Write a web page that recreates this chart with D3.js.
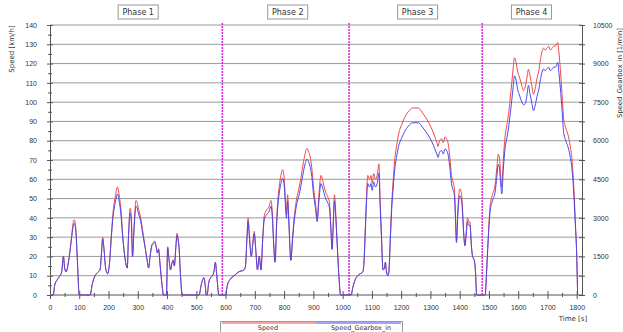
<!DOCTYPE html>
<html>
<head>
<meta charset="utf-8">
<script src="https://cdn.jsdelivr.net/npm/d3@7"></script>
<style>
  body { margin: 0; background: #fff; }
  svg { font-family: "DejaVu Sans", sans-serif; }
  .axis text { font-size: 7px; fill: #333; }
  .axis path, .axis line { stroke: #555; }
</style>
</head>
<body>
<div id="chart"></div>
<script>
// time [s]
const times = [
  0, 11, 16, 25, 34, 40, 46, 50, 55, 63, 72, 80, 83, 88, 93, 100, 137, 145, 154, 165,
  171, 176, 180, 184, 190, 197, 203, 210, 215, 223, 231, 236, 242, 248, 254, 261, 264, 268, 274, 278,
  282, 287, 294, 298, 302, 310, 318, 326, 333, 337, 342, 348, 352, 358, 362, 367, 371, 376, 383, 388,
  398, 402, 407, 412, 416, 421, 425, 430, 434, 438, 441, 446, 452, 509, 518, 526, 531, 534, 537, 542,
  549, 555, 560, 565, 570, 577, 600,
  606, 615, 629, 645, 663, 668, 673, 677, 681, 688, 693, 698, 703, 709, 715, 721, 727, 732, 740, 749,
  755, 760, 764, 769, 775, 779, 783, 789, 795, 800, 805, 808, 812, 816, 823, 829, 835, 843, 852, 862,
  870, 878, 885, 890, 896, 901, 907, 913, 919, 926, 931, 937, 943, 949, 955, 960, 964, 968, 972, 976,
  982, 988, 993, 1029,
  1035, 1043, 1052, 1060, 1069, 1073, 1076, 1080, 1086, 1092, 1097, 1101, 1106, 1112, 1118, 1124, 1128, 1133, 1138, 1143,
  1146, 1150, 1155, 1158, 1163, 1168, 1173, 1178, 1185, 1192, 1201, 1212, 1224, 1240, 1258, 1275, 1292, 1305, 1315, 1322,
  1326, 1331, 1338, 1344, 1350, 1355, 1360, 1366, 1372, 1378, 1382, 1386, 1389, 1394, 1400, 1406, 1410, 1414, 1418, 1422,
  1427, 1431, 1435, 1440, 1444, 1450, 1454, 1458, 1487,
  1492, 1497, 1504, 1512, 1521, 1527, 1532, 1536, 1540, 1544, 1549, 1555, 1561, 1567, 1572, 1578, 1583, 1587, 1592, 1598,
  1604, 1610, 1618, 1624, 1630, 1635, 1640, 1647, 1652, 1658, 1664, 1670, 1676, 1681, 1687, 1692, 1698, 1704, 1710, 1716,
  1721, 1727, 1731, 1735, 1739, 1744, 1750, 1755, 1762, 1772, 1778, 1784, 1790, 1795, 1800, 1803
];

// Speed [km/h]
const speed = [
  0, 0, 5, 8, 10, 12, 20, 14, 12, 17, 28, 38, 39, 35, 20, 0, 0, 6, 10, 12,
  13, 22, 30, 25, 14, 11, 16, 32, 42, 51, 56, 52, 45, 32, 22, 15, 14, 30, 45, 40,
  20, 35, 49, 48, 45, 40, 32, 24, 17, 14, 20, 26, 27, 28, 26, 22, 24, 16, 5, 0,
  0, 25, 18, 13, 16, 18, 15, 25, 32, 29, 25, 10, 0, 0, 6, 9, 4, 0, 0, 6,
  9, 10, 12, 17, 10, 0, 0,
  5, 8, 10, 12, 13, 15, 30, 40, 32, 20, 27, 33, 24, 13, 20, 13, 30, 41, 44, 46,
  49, 42, 28, 17, 40, 50, 56, 62, 65, 61, 48, 42, 52, 40, 18, 30, 41, 50, 56, 65,
  72, 76, 74, 71, 64, 55, 48, 40, 52, 62, 60, 56, 53, 51, 48, 35, 24, 38, 52, 44,
  25, 8, 0, 0,
  4, 8, 10, 11, 12, 17, 28, 45, 62, 60, 62, 58, 63, 60, 62, 68, 50, 30, 13, 14,
  17, 12, 10, 12, 30, 48, 60, 70, 78, 84, 88, 92, 95, 97, 97, 94, 90, 86, 82, 79,
  77, 80, 81, 79, 82, 81, 79, 72, 62, 58, 55, 40, 28, 45, 55, 53, 44, 32, 26, 32,
  40, 38, 38, 26, 20, 18, 12, 0, 0,
  12, 28, 46, 52, 57, 66, 73, 71, 62, 56, 70, 82, 88, 94, 101, 110, 118, 123, 121, 116,
  113, 110, 106, 108, 113, 117, 114, 108, 104, 107, 112, 116, 122, 126, 128, 127, 128, 129, 127, 128,
  129, 129, 130, 131, 126, 117, 104, 92, 87, 82, 77, 70, 56, 39, 20, 0
];

// Speed_Gearbox_in [1/min]
const gearboxRpm = [
  0, 0, 375, 600, 750, 900, 1500, 1050, 900, 1275, 2040, 2715, 2780, 2510, 1500, 0, 0, 450, 750, 900,
  975, 1635, 2175, 1840, 1050, 825, 1200, 2310, 2985, 3590, 3930, 3660, 3190, 2310, 1635, 1125, 1050, 2175, 3190, 2850,
  1500, 2510, 3460, 3390, 3190, 2850, 2310, 1770, 1275, 1050, 1500, 1905, 1970, 2040, 1905, 1635, 1770, 1200, 375, 0,
  0, 1840, 1350, 975, 1200, 1350, 1125, 1840, 2310, 2110, 1840, 750, 0, 0, 450, 675, 300, 0, 0, 450,
  675, 750, 900, 1275, 750, 0, 0,
  375, 600, 750, 900, 975, 1125, 2175, 2850, 2310, 1500, 1970, 2380, 1770, 975, 1500, 975, 2175, 2920, 3120, 3255,
  3460, 2985, 2040, 1275, 2850, 3525, 3930, 4335, 4540, 4270, 3390, 2985, 3660, 2850, 1350, 2175, 2920, 3525, 3930, 4540,
  5010, 5280, 5145, 4940, 4470, 3860, 3390, 2850, 3660, 4335, 4200, 3930, 3730, 3590, 3390, 2510, 1770, 2715, 3660, 3120,
  1840, 600, 0, 0,
  300, 600, 750, 825, 900, 1275, 2040, 3190, 4335, 4200, 4335, 4065, 4400, 4200, 4335, 4740, 3525, 2175, 975, 1050,
  1275, 900, 750, 900, 2175, 3390, 4200, 4875, 5415, 5820, 6090, 6360, 6560, 6700, 6700, 6495, 6225, 5955, 5685, 5480,
  5350, 5550, 5620, 5480, 5685, 5620, 5480, 5010, 4335, 4065, 3860, 2850, 2040, 3190, 3860, 3730, 3120, 2310, 1905, 2310,
  2850, 2715, 2715, 1905, 1500, 1350, 900, 0, 0,
  900, 2040, 3255, 3660, 4000, 4605, 5080, 4940, 4335, 3930, 4875, 5685, 6090, 6495, 6970, 7575, 8115, 8520, 8400, 8000,
  7780, 7575, 7400, 7440, 7780, 8150, 7845, 7440, 7170, 7370, 7710, 7980, 8385, 8655, 8790, 8720, 8790, 8860, 8720, 8790,
  8860, 8860, 8925, 9050, 8655, 8048, 7170, 6360, 6020, 5685, 5350, 4875, 3930, 2780, 1500, 0
];

const phases = ["Phase 1", "Phase 2", "Phase 3", "Phase 4"];
const phaseBounds = [0, 589, 1022, 1477, 1800];

const speedTicks = d3.range(0, 141, 10);
const rpmTicks = d3.range(0, 10501, 1500);
const timeTicks = d3.range(0, 1801, 100);

const width = 623, height = 332;
const margin = {top: 25, right: 41, bottom: 37, left: 50};
const fmt = d3.format("d");

const svg = d3.select("#chart")
  .append("svg")
    .attr("width", width)
    .attr("height", height);

const x = d3.scaleLinear()
  .domain([0, 1818])
  .range([margin.left, width - margin.right]);

const y = d3.scaleLinear()
  .domain([0, 140])
  .range([height - margin.bottom, margin.top]);

const yR = d3.scaleLinear()
  .domain([0, 10500])
  .range([height - margin.bottom, margin.top]);

// grid
svg.append("g")
  .selectAll("line")
  .data(speedTicks.filter(d => d > 0))
  .join("line")
    .attr("x1", margin.left)
    .attr("x2", width - margin.right)
    .attr("y1", d => y(d))
    .attr("y2", d => y(d))
    .attr("stroke", "#9a9a9a")
    .attr("stroke-width", 1);

// left axis
const yAxis = svg.append("g")
  .attr("class", "axis")
  .attr("transform", `translate(${margin.left}, 0)`)
  .call(d3.axisLeft(y).tickValues(speedTicks).tickFormat(fmt).tickSizeOuter(0).tickSizeInner(3).tickPadding(10));
yAxis.selectAll(".tick line").attr("x1", 3);

svg.append("g")
  .attr("class", "axis")
  .attr("transform", `translate(${margin.left}, 0)`)
  .call(d3.axisLeft(y).tickValues(d3.range(5, 140, 10)).tickFormat("").tickSizeOuter(0).tickSizeInner(2))
  .call(g => g.select(".domain").remove())
  .selectAll(".tick line").attr("x1", 2);

// right axis
const yRAxis = svg.append("g")
  .attr("class", "axis")
  .attr("transform", `translate(${width - margin.right}, 0)`)
  .call(d3.axisRight(yR).tickValues(rpmTicks).tickFormat(fmt).tickSizeOuter(0).tickSizeInner(3).tickPadding(8));
yRAxis.selectAll(".tick line").attr("x1", -3);

svg.append("g")
  .attr("class", "axis")
  .attr("transform", `translate(${width - margin.right}, 0)`)
  .call(d3.axisRight(yR).tickValues(d3.range(750, 10500, 1500)).tickFormat("").tickSizeOuter(0).tickSizeInner(3))
  .call(g => g.select(".domain").remove())
  .selectAll(".tick line").attr("x1", -3);

// bottom axis
const xAxis = svg.append("g")
  .attr("class", "axis")
  .attr("transform", `translate(0, ${height - margin.bottom})`)
  .call(d3.axisBottom(x).tickValues(timeTicks).tickFormat(fmt).tickSizeOuter(0).tickSizeInner(4).tickPadding(6));
xAxis.select(".domain").attr("d", `M${margin.left},0H${width - margin.right}`);
xAxis.selectAll(".tick line").attr("y1", -4);

svg.append("g")
  .attr("class", "axis")
  .attr("transform", `translate(0, ${height - margin.bottom})`)
  .call(d3.axisBottom(x).tickValues(d3.range(50, 1800, 100)).tickFormat("").tickSizeOuter(0).tickSizeInner(2))
  .call(g => g.select(".domain").remove())
  .selectAll(".tick line").attr("y1", -2);

// phase separators
svg.append("g")
  .selectAll("line")
  .data(phaseBounds.slice(1, 4))
  .join("line")
    .attr("x1", d => x(d))
    .attr("x2", d => x(d))
    .attr("y1", margin.top - 2)
    .attr("y2", height - margin.bottom)
    .attr("stroke", "#e21ee2")
    .attr("stroke-width", 1.5)
    .attr("stroke-dasharray", "2 1");

// phase labels
const phaseG = svg.append("g")
  .selectAll("g")
  .data(phases)
  .join("g")
    .attr("transform", (d, i) => `translate(${x((phaseBounds[i] + phaseBounds[i + 1]) / 2) + 2}, 12)`);

phaseG.append("rect")
  .attr("x", -20)
  .attr("y", -7)
  .attr("width", 40)
  .attr("height", 14)
  .attr("fill", "#fff")
  .attr("stroke", "#999");

phaseG.append("text")
  .text(d => d)
  .attr("text-anchor", "middle")
  .attr("dy", "0.35em")
  .style("font-size", "8px")
  .attr("fill", "#333");

// lines
const speedLine = d3.line()
  .x((d, i) => x(times[i]))
  .y(d => y(d))
  .curve(d3.curveMonotoneX);

const rpmLine = d3.line()
  .x((d, i) => x(times[i]))
  .y(d => yR(d))
  .curve(d3.curveMonotoneX);

svg.append("path")
  .datum(speed)
  .attr("fill", "none")
  .attr("stroke", "#f0484a")
  .attr("stroke-width", 1)
  .attr("d", speedLine);

svg.append("path")
  .datum(gearboxRpm)
  .attr("fill", "none")
  .attr("stroke", "#4a46ee")
  .attr("stroke-width", 1)
  .attr("d", rpmLine);

// axis titles
svg.append("text")
  .text("Speed [km/h]")
  .attr("text-anchor", "middle")
  .attr("transform", `translate(14, 49) rotate(-90)`)
  .style("font-size", "7px")
  .attr("fill", "#333");

svg.append("text")
  .text("Speed_Gearbox_in [1/min]")
  .attr("text-anchor", "middle")
  .attr("transform", `translate(622, 73) rotate(-90)`)
  .style("font-size", "6.8px")
  .attr("fill", "#333");

svg.append("text")
  .text("Time [s]")
  .attr("x", 573)
  .attr("y", 321)
  .attr("text-anchor", "middle")
  .style("font-size", "7px")
  .attr("fill", "#333");

// legend
const legend = svg.append("g");
legend.append("rect")
  .attr("x", 220.5)
  .attr("y", 321.5)
  .attr("width", 182)
  .attr("height", 14)
  .attr("fill", "#fff")
  .attr("stroke", "#999");

const legendItems = [
  {label: "Speed", color: "#f0484a", x0: 222, x1: 316, tx: 268},
  {label: "Speed_Gearbox_in", color: "#4a46ee", x0: 316, x1: 401, tx: 361}
];

legendItems.forEach(item => {
  legend.append("line")
    .attr("x1", item.x0)
    .attr("x2", item.x1)
    .attr("y1", 323)
    .attr("y2", 323)
    .attr("stroke", item.color)
    .attr("stroke-width", 1);
  legend.append("text")
    .text(item.label)
    .attr("x", item.tx)
    .attr("y", 330)
    .attr("text-anchor", "middle")
    .style("font-size", "6.5px")
    .attr("fill", "#333");
});
</script>
</body>
</html>
